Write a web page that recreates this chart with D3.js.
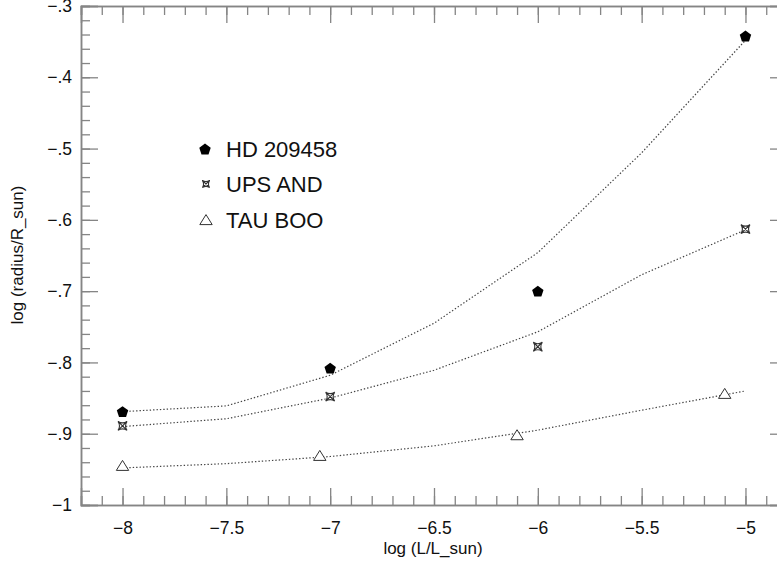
<!DOCTYPE html>
<html>
<head>
<meta charset="utf-8">
<script src="https://cdn.jsdelivr.net/npm/d3@7"></script>
<style>
  body { margin: 0; background: #fff; }
  text { font-family: "Liberation Sans", Arial, Helvetica, sans-serif; fill: #111; }
</style>
</head>
<body>
<div class="container"></div>
<script>
// measured points
var hdX = [-8, -7, -6, -5];
var hdY = [-0.869, -0.808, -0.700, -0.342];
var upsX = [-8, -7, -6, -5];
var upsY = [-0.889, -0.848, -0.778, -0.613];
var tauX = [-8, -7.05, -6.1, -5.1];
var tauY = [-0.945, -0.931, -0.902, -0.844];

// model curves (dotted)
var modelX = [-8, -7.5, -7, -6.5, -6, -5.5, -5];
var hdModel = [-0.869, -0.861, -0.818, -0.745, -0.646, -0.506, -0.348];
var upsModel = [-0.890, -0.879, -0.850, -0.811, -0.757, -0.677, -0.614];
var tauModel = [-0.948, -0.942, -0.932, -0.917, -0.895, -0.867, -0.840];

var xTicks = [-8, -7.5, -7, -6.5, -6, -5.5, -5];
var xTickLabels = ['\u22128', '\u22127.5', '\u22127', '\u22126.5', '\u22126', '\u22125.5', '\u22125'];
var yTicks = [-1, -0.9, -0.8, -0.7, -0.6, -0.5, -0.4, -0.3];
var yTickLabels = ['\u22121', '\u2212.9', '\u2212.8', '\u2212.7', '\u2212.6', '\u2212.5', '\u2212.4', '\u2212.3'];

var legendNames = ['HD 209458', 'UPS AND', 'TAU BOO'];

const WIDTH = 777;
const HEIGHT = 565;
const LEFT = 81, RIGHT = 787, TOP = 6, BOTTOM = 505;
const AXIS = '#858585';

var svg = d3.select('.container').append('svg')
	.attr('width', WIDTH)
	.attr('height', HEIGHT);

var xScale = d3.scaleLinear().domain([-8.2, -4.8]).range([LEFT, RIGHT]);
var yScale = d3.scaleLinear().domain([-1, -0.3]).range([BOTTOM, TOP]);

var xMinor = d3.range(-82, -47).map(function(d){ return d / 10; });
var yMinor = d3.range(-50, -14).map(function(d){ return d / 50; });

// axes: bottom / top / left / right, major + minor ticks
function fmtX(d){ return xTickLabels[xTicks.indexOf(d)]; }
function fmtY(d){ return yTickLabels[yTicks.indexOf(d)]; }

svg.append('g').attr('transform', 'translate(0,' + BOTTOM + ')')
	.call(d3.axisTop(xScale).tickValues(xMinor).tickSize(9).tickFormat(''));
svg.append('g').attr('transform', 'translate(0,' + BOTTOM + ')')
	.call(d3.axisTop(xScale).tickValues(xTicks).tickSize(17).tickFormat(''));
svg.append('g').attr('class', 'xlab').attr('transform', 'translate(0,' + BOTTOM + ')')
	.call(d3.axisBottom(xScale).tickValues(xTicks).tickSize(0).tickPadding(17).tickFormat(fmtX));

svg.append('g').attr('transform', 'translate(0,' + TOP + ')')
	.call(d3.axisBottom(xScale).tickValues(xMinor).tickSize(9).tickFormat(''));
svg.append('g').attr('transform', 'translate(0,' + TOP + ')')
	.call(d3.axisBottom(xScale).tickValues(xTicks).tickSize(17).tickFormat(''));

svg.append('g').attr('transform', 'translate(' + LEFT + ',0)')
	.call(d3.axisRight(yScale).tickValues(yMinor).tickSize(9).tickFormat(''));
svg.append('g').attr('transform', 'translate(' + LEFT + ',0)')
	.call(d3.axisRight(yScale).tickValues(yTicks).tickSize(17).tickFormat(''));
svg.append('g').attr('class', 'ylab').attr('transform', 'translate(' + LEFT + ',0)')
	.call(d3.axisLeft(yScale).tickValues(yTicks).tickSize(0).tickPadding(9).tickFormat(fmtY));

svg.append('g').attr('transform', 'translate(' + RIGHT + ',0)')
	.call(d3.axisLeft(yScale).tickValues(yMinor).tickSize(9).tickFormat(''));
svg.append('g').attr('transform', 'translate(' + RIGHT + ',0)')
	.call(d3.axisLeft(yScale).tickValues(yTicks).tickSize(17).tickFormat(''));

svg.selectAll('.domain').attr('stroke', AXIS).attr('stroke-width', 1.5);
svg.selectAll('.tick line').attr('stroke', AXIS).attr('stroke-width', 1.3);
svg.selectAll('.xlab .domain, .ylab .domain').remove();
svg.selectAll('.xlab text, .ylab text')
	.attr('font-family', '"Liberation Sans", Arial, sans-serif')
	.attr('font-size', 17.5).attr('fill', '#111');

// axis titles
svg.append('text')
	.attr('x', 433).attr('y', 554)
	.attr('text-anchor', 'middle').attr('font-size', 17)
	.text('log (L/L_sun)');
svg.append('text')
	.attr('transform', 'translate(23,255) rotate(-90)')
	.attr('text-anchor', 'middle').attr('font-size', 17)
	.text('log (radius/R_sun)');

// dotted model lines
var line = d3.line()
	.x(function(d){ return xScale(d[0]); })
	.y(function(d){ return yScale(d[1]); });

[hdModel, upsModel, tauModel].forEach(function(m){
	svg.append('path')
		.attr('d', line(d3.zip(modelX, m)))
		.attr('fill', 'none')
		.attr('stroke', '#444')
		.attr('stroke-width', 1.2)
		.attr('stroke-dasharray', '1.4,2');
});

// marker shapes
var pentagon = d3.symbol().type({
	draw: function(ctx, size){
		var r = 6;
		for (var i = 0; i < 5; i++) {
			var a = -Math.PI / 2 + i * 2 * Math.PI / 5;
			if (i === 0) ctx.moveTo(r * Math.cos(a), r * Math.sin(a) + 0.6);
			else ctx.lineTo(r * Math.cos(a), r * Math.sin(a) + 0.6);
		}
		ctx.closePath();
	}
})();

function starPath(s){
	var c = s * 0.35;
	return 'M' + (-s) + ',' + (-s) +
		' Q0,' + (-c) + ' ' + s + ',' + (-s) +
		' Q' + c + ',0 ' + s + ',' + s +
		' Q0,' + c + ' ' + (-s) + ',' + s +
		' Q' + (-c) + ',0 ' + (-s) + ',' + (-s) + ' Z' +
		' M' + (-s) + ',' + (-s) + ' L' + s + ',' + s +
		' M' + s + ',' + (-s) + ' L' + (-s) + ',' + s;
}

var triangle = 'M0,-5.4 L6.2,4.6 L-6.2,4.6 Z';

function drawHd(g, x, y){
	g.append('path').attr('d', pentagon)
		.attr('transform', 'translate(' + x + ',' + y + ')')
		.attr('fill', '#000');
}
function drawUps(g, x, y, s){
	g.append('path').attr('d', starPath(s))
		.attr('transform', 'translate(' + x + ',' + y + ')')
		.attr('fill', 'none').attr('stroke', '#333').attr('stroke-width', 1.1);
}
function drawTau(g, x, y){
	g.append('path').attr('d', triangle)
		.attr('transform', 'translate(' + x + ',' + y + ')')
		.attr('fill', '#fff').attr('stroke', '#333').attr('stroke-width', 1);
}

var pts = svg.append('g');
hdX.forEach(function(d, i){ drawHd(pts, xScale(d), yScale(hdY[i])); });
upsX.forEach(function(d, i){ drawUps(pts, xScale(d), yScale(upsY[i]), 4.5); });
tauX.forEach(function(d, i){ drawTau(pts, xScale(tauX[i]), yScale(tauY[i])); });

// legend
var leg = svg.append('g');
var legY = [149, 184, 220];
drawHd(leg, 205, legY[0]);
drawUps(leg, 206, legY[1], 3.6);
drawTau(leg, 206, legY[2]);
legendNames.forEach(function(n, i){
	leg.append('text')
		.attr('x', 226).attr('y', legY[i])
		.attr('dy', '0.36em')
		.attr('font-size', 22)
		.text(n);
});
</script>
</body>
</html>
